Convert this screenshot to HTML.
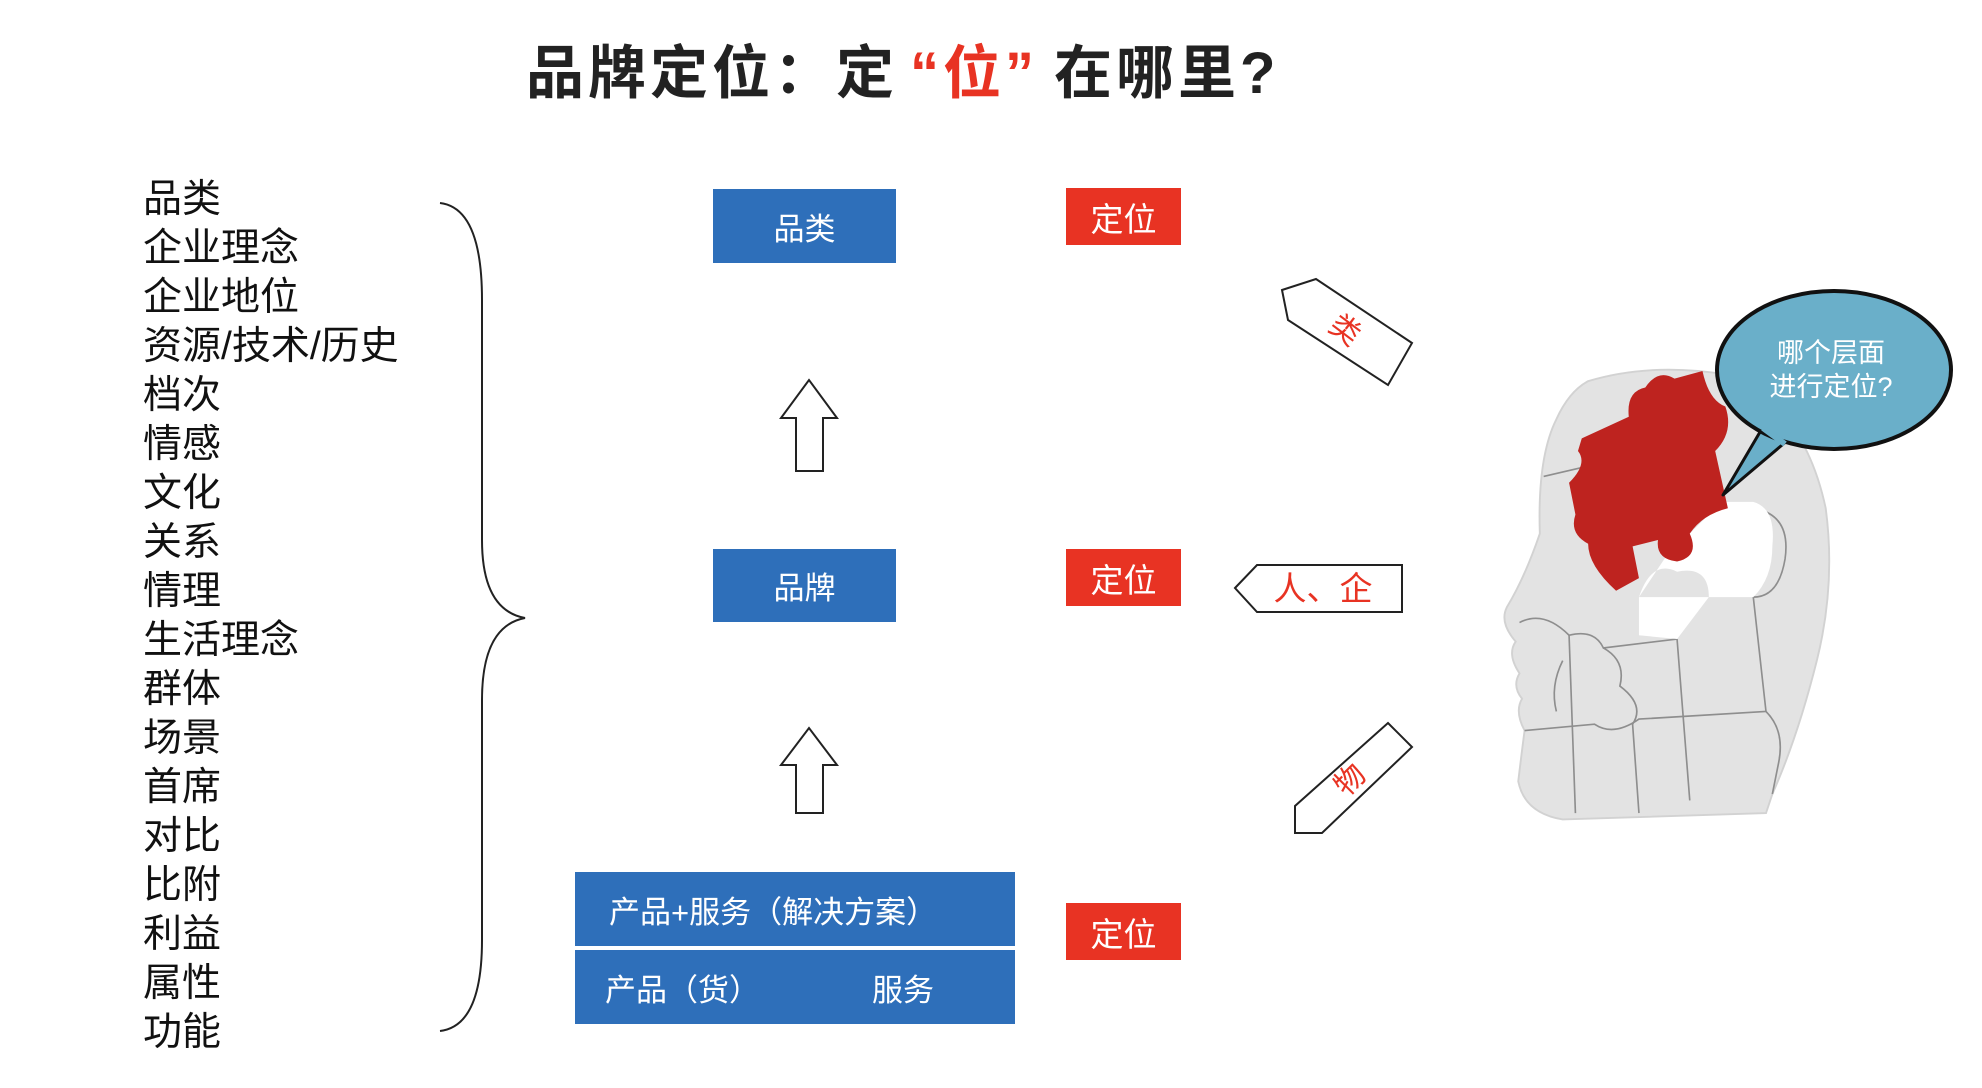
<!DOCTYPE html>
<html><head><meta charset="utf-8"><style>
html,body{margin:0;padding:0;background:#fff;}
body{width:1982px;height:1088px;position:relative;overflow:hidden;font-family:"Liberation Sans","Noto Sans CJK SC",sans-serif;}
.t{position:absolute;white-space:nowrap;}
.list{position:absolute;left:143px;top:175px;font-size:39px;line-height:49px;color:#111;}
.blue{position:absolute;background:#2e6fba;color:#fff;display:flex;align-items:center;justify-content:center;font-size:31px;}
.red{position:absolute;background:#e83323;color:#fff;display:flex;align-items:center;justify-content:center;font-size:33px;width:115px;height:57px;left:1066px;}
</style></head><body>
<div class="t" style="left:526px;top:26px;font-size:58px;font-weight:bold;color:#222;letter-spacing:4px;">品牌定位：定<span style="color:#e83323;margin-left:12px;margin-right:16px">“位”</span>在哪里?</div>
<div class="list">品类<br>企业理念<br>企业地位<br>资源/技术/历史<br>档次<br>情感<br>文化<br>关系<br>情理<br>生活理念<br>群体<br>场景<br>首席<br>对比<br>比附<br>利益<br>属性<br>功能</div>
<svg width="1982" height="1088" style="position:absolute;left:0;top:0">
<path d="M440 203 Q482 208 482 300 L482 540 Q482 610 525 618 Q482 626 482 700 L482 940 Q482 1026 440 1031" fill="none" stroke="#222" stroke-width="2"/>
<path d="M796 471 L796 418 L781 418 L809 380 L837 418 L823 418 L823 471 Z" fill="#fff" stroke="#222" stroke-width="2"/>
<path d="M796 813 L796 765 L781 765 L809 728 L837 765 L823 765 L823 813 Z" fill="#fff" stroke="#222" stroke-width="2"/>
<polygon points="1282,290 1316,279 1412,343 1388,385 1288,320" fill="#fff" stroke="#222" stroke-width="2"/>
<text x="1345" y="340" font-size="30" fill="#e83323" transform="rotate(37 1345 330)" text-anchor="middle" font-family="Liberation Sans,Noto Sans CJK SC,sans-serif">类</text>
<polygon points="1235,588 1257,565 1402,565 1402,612 1257,612" fill="#fff" stroke="#222" stroke-width="2"/>
<text x="1323" y="600" font-size="33" fill="#e83323" text-anchor="middle" font-family="Liberation Sans,Noto Sans CJK SC,sans-serif">人、企</text>
<polygon points="1295,806 1295,833 1322,833 1412,747 1388,723" fill="#fff" stroke="#222" stroke-width="2"/>
<text x="1350" y="790" font-size="30" fill="#e83323" transform="rotate(-45 1350 780)" text-anchor="middle" font-family="Liberation Sans,Noto Sans CJK SC,sans-serif">物</text>
<g transform="scale(1.2705)">
<path d="M1250 300 Q1300 285 1360 295 Q1420 320 1437 400 Q1445 460 1430 520 Q1415 580 1395 625 L1390 640 L1230 645 Q1200 640 1195 615 Q1198 590 1200 575 Q1192 560 1198 550 Q1190 540 1196 530 Q1186 515 1193 505 Q1180 490 1186 478 Q1200 455 1212 420 Q1210 360 1225 330 Q1235 308 1250 300 Z" fill="#e3e3e3" stroke="#d2d2d2" stroke-width="1.5"/>
<g fill="none" stroke="#8e8e8e" stroke-width="1.3">
<path d="M1215 375 L1245 368"/>
<path d="M1196 490 Q1215 480 1235 500 Q1255 495 1262 510 L1320 503"/>
<path d="M1235 500 L1240 640"/>
<path d="M1262 510 Q1280 520 1275 540 Q1295 555 1285 570 L1290 640"/>
<path d="M1320 503 L1330 630"/>
<path d="M1200 575 L1255 570 Q1270 580 1290 566 L1390 560"/>
<path d="M1380 400 Q1410 405 1405 440 Q1400 470 1380 470 L1390 560"/>
<path d="M1390 560 Q1405 575 1400 600 L1395 625"/>
<path d="M1230 520 Q1220 540 1225 560"/>
</g>
<path d="M1290 470 Q1300 440 1320 450 Q1345 445 1345 470 L1380 470 Q1395 455 1395 430 Q1398 400 1380 395 L1355 395 L1310 440 Z" fill="#fff"/>
<path d="M1290 470 L1290 500 L1320 503 L1345 470 Z" fill="#fff"/>
<path d="M1245 345 L1282 328 Q1280 308 1295 305 Q1305 290 1318 298 L1340 292 Q1345 315 1358 320 Q1365 340 1350 355 L1360 400 Q1340 405 1330 420 Q1338 438 1320 442 Q1303 440 1305 425 L1285 430 L1290 455 L1272 465 Q1250 445 1250 428 Q1235 420 1240 405 L1235 380 Q1250 365 1242 355 Z" fill="#be231f"/>
</g>
<path d="M1760 432 L1723 495 L1788 440 Z" fill="#6aafc9" stroke="#111" stroke-width="3" stroke-linejoin="round"/>
<ellipse cx="1834" cy="370" rx="117" ry="79" fill="#6aafc9" stroke="#111" stroke-width="4"/>
<path d="M1763 428 L1785 444" stroke="#6aafc9" stroke-width="6"/>
<text x="1831" y="362" font-size="27" fill="#fff" text-anchor="middle" font-family="Liberation Sans,Noto Sans CJK SC,sans-serif">哪个层面</text>
<text x="1831" y="396" font-size="27" fill="#fff" text-anchor="middle" font-family="Liberation Sans,Noto Sans CJK SC,sans-serif">进行定位?</text>
</svg>
<div class="blue" style="left:713px;top:189px;width:183px;height:74px;">品类</div>
<div class="blue" style="left:713px;top:549px;width:183px;height:73px;">品牌</div>
<div class="blue" style="left:575px;top:872px;width:440px;height:74px;justify-content:flex-start;padding-left:34px;box-sizing:border-box;">产品+服务（解决方案）</div>
<div class="blue" style="left:575px;top:950px;width:440px;height:74px;justify-content:flex-start;padding-left:30px;box-sizing:border-box;">产品（货）<span style="margin-left:112px">服务</span></div>
<div class="red" style="top:188px;">定位</div>
<div class="red" style="top:549px;">定位</div>
<div class="red" style="top:903px;">定位</div>
</body></html>
